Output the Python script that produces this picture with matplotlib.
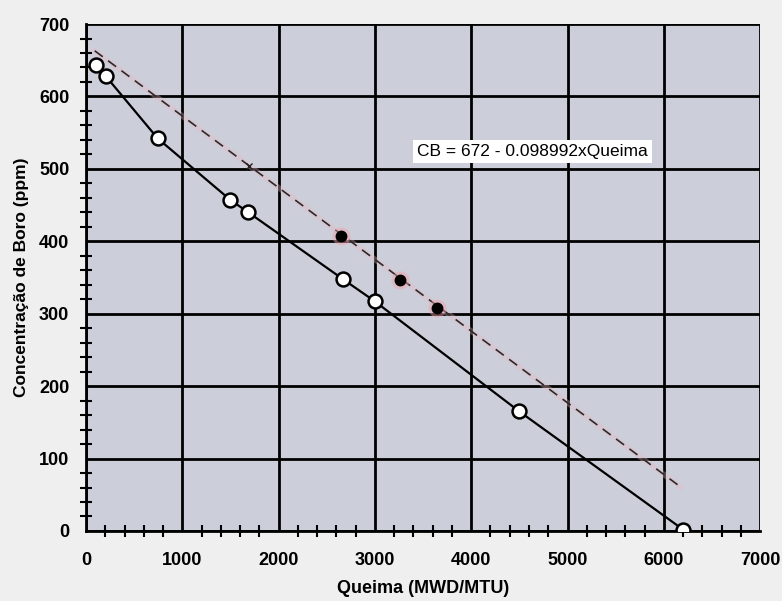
import matplotlib
matplotlib.use('Agg')
import matplotlib.pyplot as plt
from matplotlib.ticker import MultipleLocator

# measured points (open circles, solid line)
queima = [100, 205, 745, 1500, 1685, 2665, 3000, 4500, 6200]
boro = [643, 628, 542, 457, 440, 348, 317, 165, 2]

# points used in the fit (filled)
queima_fit_pts = [2650, 3260, 3640]
boro_fit_pts = [408, 346, 308]

# fitted line CB = 672 - 0.098992 x Queima
fit_a = 672
fit_b = 0.098992
fit_x = [90, 6180]
fit_y = [fit_a - fit_b * x for x in fit_x]
star_x = [1694]
star_y = [fit_a - fit_b * x for x in star_x]

plt.rcParams['font.family'] = ['Liberation Sans', 'DejaVu Sans']

fig = plt.figure(figsize=(7.82, 6.01), dpi=100, facecolor='#efefef')
ax = fig.add_axes([0.110, 0.1165, 0.862, 0.8435])
ax.set_facecolor('#cccfda')

# pink halo under the dashed fit
ax.plot(fit_x, fit_y, color='#eab8c2', lw=4, alpha=0.35, zorder=2, solid_capstyle='round')
ax.plot(fit_x, fit_y, color='#2a2a2a', lw=1.2, ls=(0, (6, 4)), zorder=3)
ax.plot(queima_fit_pts, boro_fit_pts, 'o', color='#f0a0a8', ms=13, alpha=0.45, mec='none', zorder=3)
ax.plot(queima_fit_pts, boro_fit_pts, 'o', color='black', ms=7.5, zorder=4)
ax.plot(star_x, star_y, marker='x', color='#222222', ms=5, mew=1, ls='none', zorder=4)

ax.plot(queima, boro, '-', color='black', lw=1.6, zorder=5)
ax.plot(queima, boro, 'o', mfc='white', mec='black', mew=1.8, ms=10, zorder=6)

ax.set_xlim(0, 7000)
ax.set_ylim(0, 700)
ax.xaxis.set_major_locator(MultipleLocator(1000))
ax.xaxis.set_minor_locator(MultipleLocator(200))
ax.yaxis.set_major_locator(MultipleLocator(100))
ax.yaxis.set_minor_locator(MultipleLocator(20))
ax.grid(True, which='major', color='black', lw=2, zorder=1)
ax.set_axisbelow(True)

for s in ['top', 'right']:
    ax.spines[s].set_visible(False)
ax.spines['left'].set_linewidth(2)
ax.spines['bottom'].set_linewidth(2)

ax.tick_params(which='both', direction='inout', width=1.5)
ax.tick_params(which='major', length=0)
ax.tick_params(axis='x', which='major', pad=15)
ax.tick_params(axis='y', which='major', pad=12)
ax.tick_params(which='minor', length=9)
ax.tick_params(axis='both', labelsize=13)
for lab in ax.get_xticklabels() + ax.get_yticklabels():
    lab.set_fontweight('bold')
ax.get_yticklabels()[0].set_color('#aaaaaa')

ax.set_xlabel('Queima (MWD/MTU)', fontsize=13, fontweight='bold', labelpad=8)
ax.set_ylabel('Concentração de Boro (ppm)', fontsize=12.5, fontweight='bold', labelpad=7)

ax.text(4640, 524, 'CB = 672 - 0.098992xQueima', fontsize=12.5, ha='center', va='center',
        bbox=dict(facecolor='white', edgecolor='none', pad=3), zorder=7)

fig.savefig('out.png', dpi=100, facecolor=fig.get_facecolor())
